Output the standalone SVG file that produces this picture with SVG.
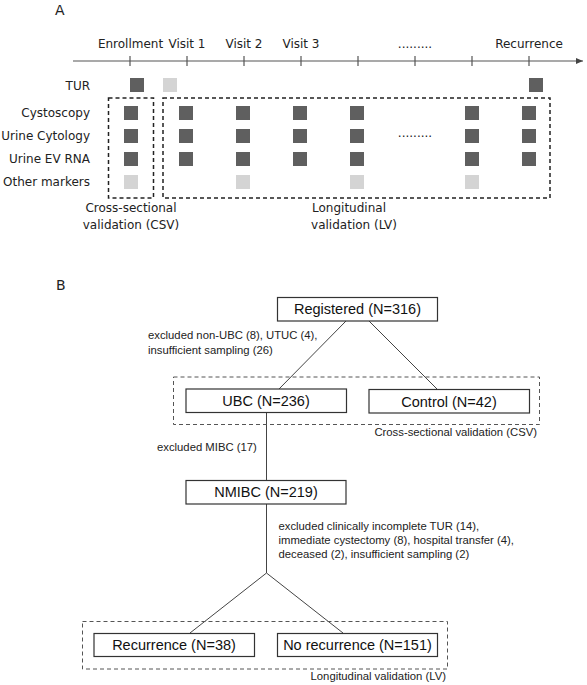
<svg xmlns="http://www.w3.org/2000/svg" width="587" height="685" viewBox="0 0 587 685">
<style>
.ta{font-family:"DejaVu Sans",Verdana,sans-serif;font-size:12px;fill:#222}
.tb{font-family:"Liberation Sans",Arial,sans-serif;font-size:14.5px;fill:#111}
.ts{font-family:"Liberation Sans",Arial,sans-serif;font-size:11.3px;fill:#222}
.hd{font-family:"DejaVu Sans",Verdana,sans-serif;font-size:14px;fill:#222}
.dk{fill:#5f5f5f}
.lt{fill:#d4d4d4}
.dashA{fill:none;stroke:#222;stroke-width:1.5;stroke-dasharray:4 3}
.dashB{fill:none;stroke:#555;stroke-width:1;stroke-dasharray:4 3}
.box{fill:#fff;stroke:#333;stroke-width:1.2}
.ln{stroke:#444;stroke-width:1;fill:none}
.axis{stroke:#555;stroke-width:1.2;fill:none}
</style>
<defs>
<marker id="arr" markerWidth="8" markerHeight="8" refX="7" refY="4" orient="auto" markerUnits="userSpaceOnUse">
<path d="M0,1 L7,4 L0,7 Z" fill="#444"/>
</marker>
</defs>
<rect width="587" height="685" fill="#fff"/>

<g id="panelA">
<text class="hd" x="55" y="15">A</text>
<g id="timeline">
<line class="axis" x1="73" y1="61" x2="583" y2="61" marker-end="url(#arr)"/>
<g class="axis">
<line x1="130" y1="56" x2="130" y2="66"/>
<line x1="187" y1="56" x2="187" y2="66"/>
<line x1="244" y1="56" x2="244" y2="66"/>
<line x1="301" y1="56" x2="301" y2="66"/>
<line x1="358" y1="56" x2="358" y2="66"/>
<line x1="415" y1="56" x2="415" y2="66"/>
<line x1="472" y1="56" x2="472" y2="66"/>
<line x1="529" y1="56" x2="529" y2="66"/>
</g>
<g class="ta" text-anchor="middle">
<text x="130.5" y="48">Enrollment</text>
<text x="187" y="48">Visit 1</text>
<text x="244" y="48">Visit 2</text>
<text x="301" y="48">Visit 3</text>
<text x="415" y="48">.........</text>
<text x="529" y="48">Recurrence</text>
</g>
</g>
<g id="rowLabels" class="ta" text-anchor="end">
<text x="90" y="89.5">TUR</text>
<text x="90" y="117">Cystoscopy</text>
<text x="90" y="140">Urine Cytology</text>
<text x="90" y="163">Urine EV RNA</text>
<text x="90" y="186">Other markers</text>
</g>
<g id="squares">
<rect class="dk" x="130" y="78" width="14" height="14"/>
<rect class="lt" x="163" y="78" width="14" height="14"/>
<rect class="dk" x="529" y="78" width="14" height="14"/>
<g class="dk">
<rect x="124" y="106" width="14" height="14"/><rect x="179" y="106" width="14" height="14"/><rect x="236" y="106" width="14" height="14"/><rect x="293" y="106" width="14" height="14"/><rect x="350" y="106" width="14" height="14"/><rect x="465" y="106" width="14" height="14"/><rect x="522" y="106" width="14" height="14"/>
<rect x="124" y="129" width="14" height="14"/><rect x="179" y="129" width="14" height="14"/><rect x="236" y="129" width="14" height="14"/><rect x="293" y="129" width="14" height="14"/><rect x="350" y="129" width="14" height="14"/><rect x="465" y="129" width="14" height="14"/><rect x="522" y="129" width="14" height="14"/>
<rect x="124" y="152" width="14" height="14"/><rect x="179" y="152" width="14" height="14"/><rect x="236" y="152" width="14" height="14"/><rect x="293" y="152" width="14" height="14"/><rect x="350" y="152" width="14" height="14"/><rect x="465" y="152" width="14" height="14"/><rect x="522" y="152" width="14" height="14"/>
</g>
<g class="lt">
<rect x="124" y="175" width="14" height="14"/><rect x="236" y="175" width="14" height="14"/><rect x="350" y="175" width="14" height="14"/><rect x="465" y="175" width="14" height="14"/>
</g>
<text class="ta" x="415" y="137" text-anchor="middle">.........</text>
</g>
<g id="csvA">
<rect class="dashA" x="108.5" y="98" width="45" height="100"/>
<text class="ta" x="131" y="212" text-anchor="middle">Cross-sectional</text>
<text class="ta" x="131" y="229" text-anchor="middle">validation (CSV)</text>
</g>
<g id="lvA">
<rect class="dashA" x="163" y="98" width="387" height="100"/>
<text class="ta" x="349" y="212" text-anchor="middle">Longitudinal</text>
<text class="ta" x="354" y="229" text-anchor="middle">validation (LV)</text>
</g>
</g>

<g id="panelB">
<text class="hd" x="56" y="290">B</text>
<g id="connectors">
<line class="ln" x1="346" y1="321" x2="279" y2="389"/>
<line class="ln" x1="369" y1="321" x2="438" y2="390"/>
<line class="ln" x1="266.5" y1="412" x2="266.5" y2="480"/>
<line class="ln" x1="266.5" y1="504" x2="266.5" y2="573"/>
<line class="ln" x1="266.5" y1="573" x2="190" y2="633"/>
<line class="ln" x1="266.5" y1="573" x2="343" y2="633"/>
</g>
<g id="csvGroup">
<rect class="dashB" x="173.5" y="377" width="366" height="47.5"/>
<text class="ts" x="537" y="436" text-anchor="end">Cross-sectional validation (CSV)</text>
</g>
<g id="lvGroup">
<rect class="dashB" x="82.5" y="621.5" width="365" height="47.5"/>
<text class="ts" x="446" y="679.5" text-anchor="end">Longitudinal validation (LV)</text>
</g>
<g id="registered">
<rect class="box" x="277.5" y="297.5" width="160" height="23.5"/>
<text class="tb" x="357.5" y="314" text-anchor="middle">Registered (N=316)</text>
</g>
<g id="excl1" class="ts">
<text x="148" y="339">excluded non-UBC (8), UTUC (4),</text>
<text x="148" y="353.5">insufficient sampling (26)</text>
</g>
<g id="ubc">
<rect class="box" x="186" y="389" width="160.5" height="23.5"/>
<text class="tb" x="266" y="406" text-anchor="middle">UBC (N=236)</text>
</g>
<g id="control">
<rect class="box" x="369" y="389.5" width="160.5" height="23.5"/>
<text class="tb" x="449" y="406.5" text-anchor="middle">Control (N=42)</text>
</g>
<g id="excl2" class="ts">
<text x="157" y="451">excluded MIBC (17)</text>
</g>
<g id="nmibc">
<rect class="box" x="186" y="480.5" width="160" height="23.5"/>
<text class="tb" x="266" y="497" text-anchor="middle">NMIBC (N=219)</text>
</g>
<g id="excl3" class="ts">
<text x="278.5" y="529.5">excluded clinically incomplete TUR (14),</text>
<text x="278.5" y="543.5">immediate cystectomy (8), hospital transfer (4),</text>
<text x="278.5" y="557.5">deceased (2), insufficient sampling (2)</text>
</g>
<g id="recurrence">
<rect class="box" x="94" y="633.5" width="160.5" height="23"/>
<text class="tb" x="174" y="650" text-anchor="middle">Recurrence (N=38)</text>
</g>
<g id="norecurrence">
<rect class="box" x="277.5" y="633.5" width="160" height="23"/>
<text class="tb" x="357.5" y="650" text-anchor="middle">No recurrence (N=151)</text>
</g>
</g>
</svg>
